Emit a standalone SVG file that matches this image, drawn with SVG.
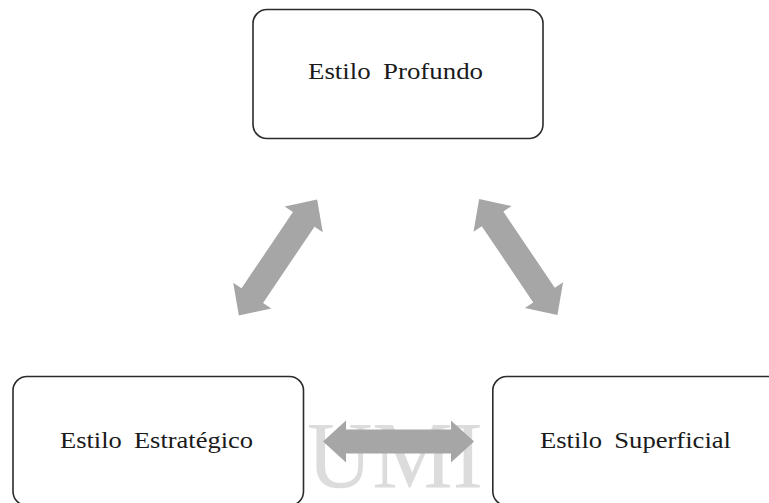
<svg xmlns="http://www.w3.org/2000/svg" width="769" height="503" viewBox="0 0 769 503">
  <style>
    .box { fill: #ffffff; stroke: #2b2b2b; stroke-width: 1.6; }
    .lbl { font-family: "Liberation Serif", "Times New Roman", serif; font-size: 24px; fill: #1a1a1a; word-spacing: 5px; }
    .arr { fill: #a6a6a6; }
    .wm { font-family: "Liberation Serif", "Times New Roman", serif; font-size: 96px; fill: #dcdcdc; }
  </style>
  <defs>
    <path id="dbl" d="M -70 0 L -46 -23 L -46 -13 L 46 -13 L 46 -23 L 70 0 L 46 23 L 46 13 L -46 13 L -46 23 Z"/>
  </defs>
  <rect width="769" height="503" fill="#ffffff"/>
  <text class="wm" x="307" y="488" textLength="176" lengthAdjust="spacingAndGlyphs">UMI</text>
  <g id="connectors">
    <use href="#dbl" class="arr" transform="translate(278,257.5) rotate(-56)"/>
    <use href="#dbl" class="arr" transform="translate(518.3,257) rotate(56)"/>
    <path class="arr" d="M 323 441.5 L 346 420.5 L 346 429.5 L 451 429.5 L 451 420.5 L 474 441.5 L 451 462.5 L 451 453.5 L 346 453.5 L 346 462.5 Z"/>
  </g>
  <g id="node-profundo">
    <rect class="box" x="253" y="9.5" width="290" height="129" rx="14"/>
    <text class="lbl" x="308" y="79" textLength="175" lengthAdjust="spacingAndGlyphs">Estilo Profundo</text>
  </g>
  <g id="node-estrategico">
    <rect class="box" x="13" y="376.5" width="290.5" height="129" rx="14"/>
    <text class="lbl" x="60" y="448" textLength="193" lengthAdjust="spacingAndGlyphs">Estilo Estratégico</text>
  </g>
  <g id="node-superficial">
    <rect class="box" x="492.8" y="376.5" width="300" height="129" rx="14"/>
    <text class="lbl" x="540" y="448" textLength="191" lengthAdjust="spacingAndGlyphs">Estilo Superficial</text>
  </g>
</svg>
